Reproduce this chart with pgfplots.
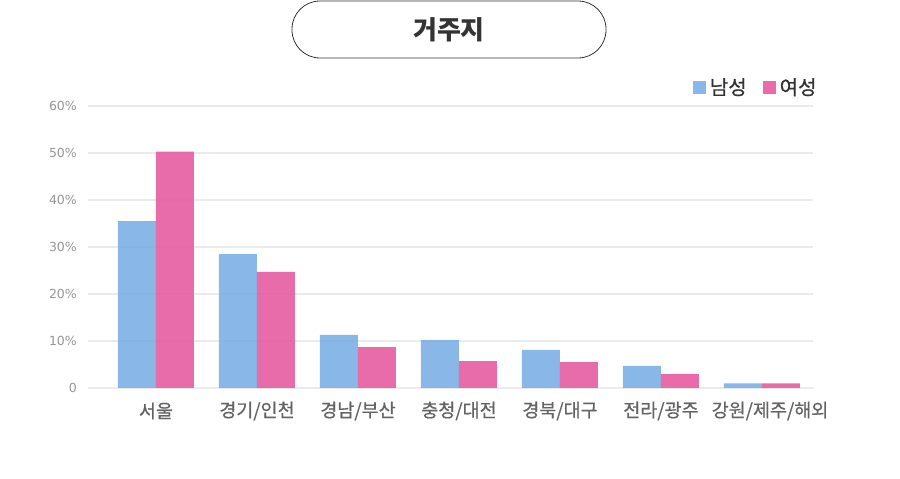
\documentclass[border=0pt]{standalone}
\usepackage{fontspec}
\setmainfont{Noto Sans CJK KR}
\newfontfamily\medfont{Noto Sans CJK KR}[FakeBold=0.6]
\newfontfamily\tickfont{DejaVu Sans}
\usepackage{pgfplots}
\pgfplotsset{compat=1.18}
\definecolor{male}{RGB}{124,175,229}
\definecolor{female}{RGB}{230,91,161}
\definecolor{gridc}{RGB}{235,235,235}
\definecolor{ytxt}{RGB}{150,150,150}
\definecolor{xtxt}{RGB}{100,100,100}
\definecolor{ttl}{RGB}{51,51,51}
\begin{document}
\begin{tikzpicture}[x=1pt,y=1pt]
\useasboundingbox (0,0) rectangle (900,479);
\draw[rounded corners=28pt, color=ttl, line width=0.8pt] (292,421) rectangle (606,478);
\node[text=ttl, font=\fontsize{26}{30}\selectfont\bfseries] at (449,449.5) {거주지};
\begin{axis}[
  at={(88pt,91pt)}, anchor=south west,
  scale only axis, width=725pt, height=282pt,
  xmin=-0.673, xmax=6.505, ymin=0, ymax=60,
  axis line style={draw=none},
  ybar=0pt, bar width=38pt,
  ymajorgrids, grid style={gridc, line width=2pt},
  ytick={0,10,20,30,40,50,60},
  yticklabels={0,10\%,20\%,30\%,40\%,50\%,60\%},
  xtick={0,1,2,3,4,5,6},
  xticklabels={서울,경기/인천,경남/부산,충청/대전,경북/대구,전라/광주,\hspace*{16pt}강원/제주/해외},
  major tick length=0pt,
  yticklabel style={font=\tickfont\fontsize{12.5}{14}\selectfont, text=ytxt, anchor=east, inner sep=0pt, xshift=-11pt},
  xticklabel style={font=\medfont\fontsize{18.5}{20}\selectfont, text=xtxt, anchor=center, yshift=-23pt},
  legend columns=2,
  legend style={draw=none, fill=none, at={(rel axis cs:1.012,1.067)}, anchor=east,
    font=\medfont\fontsize{20}{22}\selectfont, text=ttl,
    /tikz/every odd column/.append style={column sep=2pt},
    /tikz/every even column/.append style={column sep=14pt}},
  legend image code/.code={\fill[#1,draw=none] (0pt,-6.5pt) rectangle (13pt,6.5pt);},
]
\addplot[fill=male, draw=none, fill opacity=0.9] coordinates {(0,35.5) (1,28.5) (2,11.3) (3,10.2) (4,8.1) (5,4.7) (6,1.0)};
\addplot[fill=female, draw=none, fill opacity=0.9] coordinates {(0,50.3) (1,24.7) (2,8.7) (3,5.7) (4,5.5) (5,3.0) (6,1.0)};
\legend{남성,여성}
\end{axis}
\end{tikzpicture}
\end{document}
